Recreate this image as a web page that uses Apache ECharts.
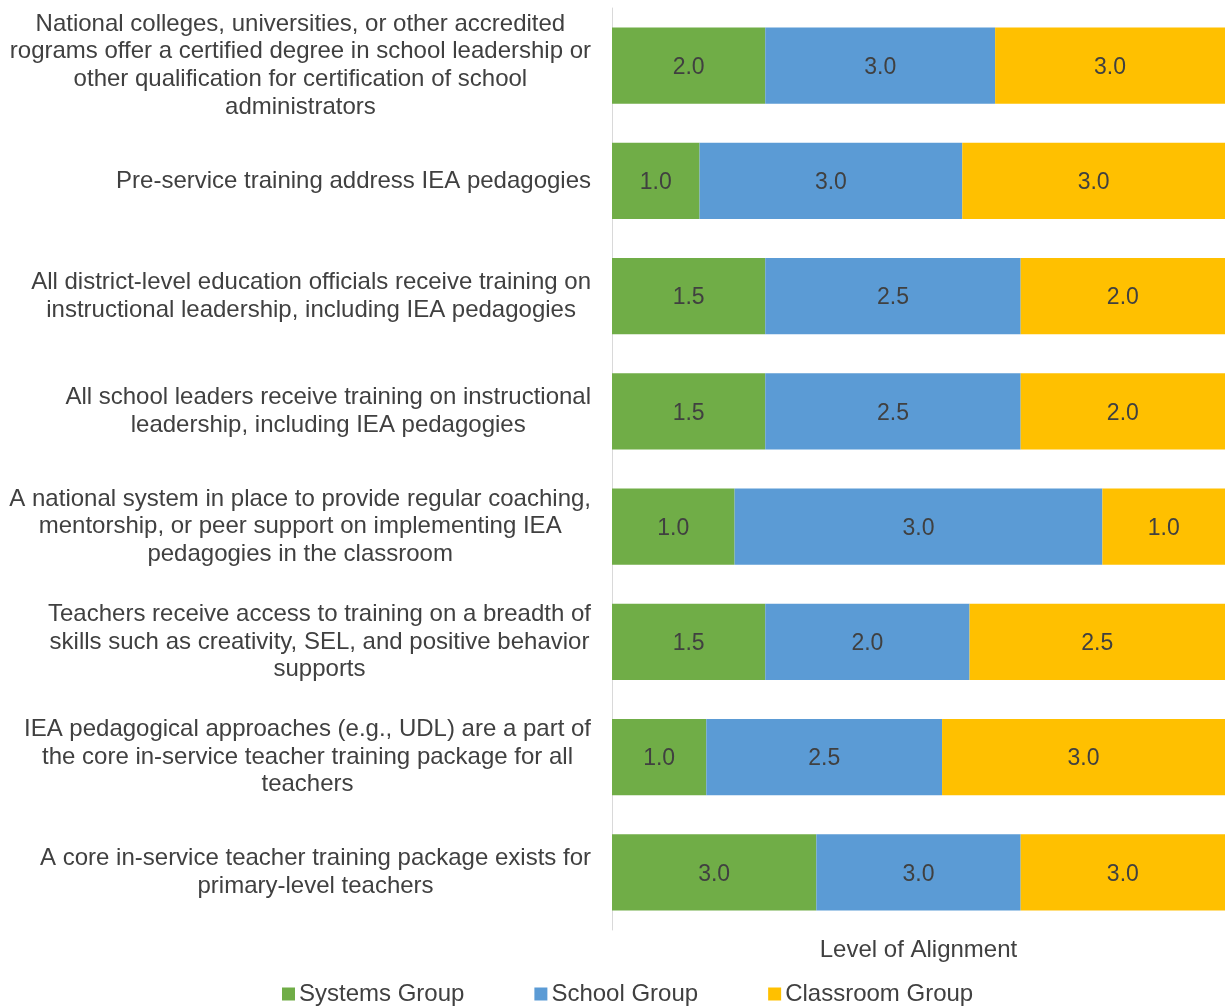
<!DOCTYPE html>
<html>
<head>
<meta charset="utf-8">
<script src="https://cdn.jsdelivr.net/npm/echarts@6/dist/echarts.min.js"></script>
<style>
  html, body { margin: 0; padding: 0; background: #fff; }
  #chart { width: 1225px; height: 1007px; }
</style>
</head>
<body>
<div id="chart"></div>
<script>
// Indicators, listed top to bottom (each line of a label on its own line)
const categories = [
  "National colleges, universities, or other accredited\nrograms offer a certified degree in school leadership or\nother qualification for certification of school\nadministrators",
  "Pre-service training address IEA pedagogies",
  "All district-level education officials receive training on\ninstructional leadership, including IEA pedagogies",
  "All school leaders receive training on instructional\nleadership, including IEA pedagogies",
  "A national system in place to provide regular coaching,\nmentorship, or peer support on implementing IEA\npedagogies in the classroom",
  "Teachers receive access to training on a breadth of\nskills such as creativity, SEL, and positive behavior\nsupports",
  "IEA pedagogical approaches (e.g., UDL) are a part of\nthe core in-service teacher training package for all\nteachers",
  "A core in-service teacher training package exists for\nprimary-level teachers"
];

// Level of alignment per group
const systemsGroup   = [2.0, 1.0, 1.5, 1.5, 1.0, 1.5, 1.0, 3.0];
const schoolGroup    = [3.0, 3.0, 2.5, 2.5, 3.0, 2.0, 2.5, 3.0];
const classroomGroup = [3.0, 3.0, 2.0, 2.0, 1.0, 2.5, 3.0, 3.0];

const seriesNames = ["Systems Group", "School Group", "Classroom Group"];
const seriesColors = ["#70AD47", "#5B9BD5", "#FFC000"];
const groups = [systemsGroup, schoolGroup, classroomGroup];

const FONT = "Liberation Sans, Arial, sans-serif";
const TEXT = "#404040";

// Each row is drawn as a 100% stacked bar; labels show the raw level
const totals = categories.map((_, i) => groups.reduce((s, g) => s + g[i], 0));

const series = groups.map((vals, k) => ({
  name: seriesNames[k],
  type: "bar",
  stack: "all",
  barCategoryGap: "34%",
  itemStyle: { color: seriesColors[k] },
  label: {
    show: true,
    position: "inside",
    color: TEXT,
    fontFamily: FONT,
    fontSize: 23,
    offset: [0, 2],
    formatter: p => vals[p.dataIndex].toFixed(1)
  },
  data: vals.map((v, i) => v / totals[i] * 100)
}));

const chart = echarts.init(document.getElementById("chart"), null, { renderer: "canvas" });
chart.setOption({
  animation: false,
  textStyle: { fontFamily: FONT },
  grid: { left: 612, right: 0, top: 8, bottom: 77, containLabel: false },
  legend: {
    bottom: -4,
    left: 277,
    itemWidth: 13,
    itemHeight: 13,
    itemGap: 70,
    icon: "rect",
    textStyle: { color: TEXT, fontSize: 24, fontFamily: FONT, padding: [0, 0, 0, -1] },
    data: seriesNames
  },
  xAxis: {
    type: "value",
    min: 0,
    max: 100,
    name: "Level of Alignment",
    nameLocation: "middle",
    nameGap: 8,
    nameTextStyle: { color: TEXT, fontSize: 24, fontFamily: FONT },
    axisLine: { show: false },
    axisTick: { show: false },
    axisLabel: { show: false },
    splitLine: { show: false }
  },
  yAxis: {
    type: "category",
    inverse: true,
    data: categories,
    axisLine: { show: true, lineStyle: { color: "#D9D9D9", width: 1 } },
    axisTick: { show: false },
    axisLabel: {
      margin: 21,
      align: "right",
      formatter: v => v.split("\n").map(l => "{a|" + l + "}").join("\n"),
      rich: {
        a: {
          align: "center",
          color: TEXT,
          fontSize: 24,
          lineHeight: 27.6,
          fontFamily: FONT
        }
      }
    }
  },
  series: series
});
</script>
</body>
</html>
